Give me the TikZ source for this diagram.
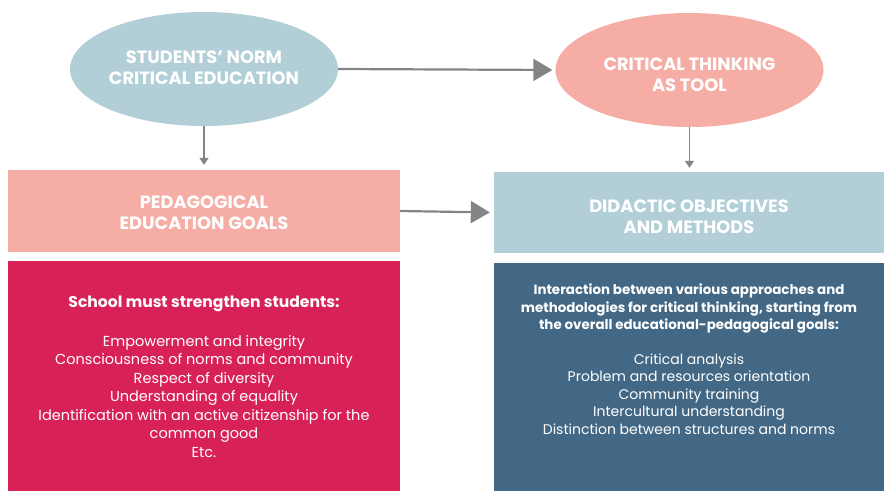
\documentclass[tikz,border=0pt]{standalone}
\usepackage{fontspec}
\setmainfont{Poppins}
\usetikzlibrary{shapes.geometric,arrows.meta}

\definecolor{paleblue}{HTML}{B2CFD8}
\definecolor{salmon}{HTML}{F6ADA5}
\definecolor{crimson}{HTML}{D82257}
\definecolor{slateblue}{HTML}{436885}
\definecolor{arrowgray}{HTML}{838486}

\tikzset{
  heading/.style={font=\fontsize{17.8}{21}\selectfont\bfseries, text=white, align=center},
  oval/.style={ellipse, draw=none, inner sep=0pt, minimum width=268pt, minimum height=114pt},
  band/.style={rectangle, draw=none, inner sep=0pt},
  panel/.style={rectangle, draw=none, inner sep=0pt},
  bodytext/.style={text=white, align=center, inner sep=0pt},
  bigarrow/.style={draw=arrowgray, line width=2.2pt, -{Triangle[length=19pt,width=22pt]}},
  smallarrow/.style={draw=arrowgray, line width=1.2pt, -{Triangle[length=7pt,width=9pt]}}
}

\begin{document}
\begin{tikzpicture}[x=1pt,y=-1pt]
  \useasboundingbox (0,0) rectangle (884,491);

  % top row: two ovals
  \node[oval, fill=paleblue] (norm) at (204,69) {};
  \node[heading] (normtext) at (204,67.5) {STUDENTS' NORM\\CRITICAL EDUCATION};
  \node[oval, fill=salmon] (tool) at (689.5,70) {};
  \node[heading] (tooltext) at (689.5,75) {CRITICAL THINKING\\AS TOOL};

  % middle row: two bands
  \node[band, fill=salmon, minimum width=392pt, minimum height=82pt] (goals) at (204,211) {};
  \node[heading] (goalstext) at (204,213) {PEDAGOGICAL\\EDUCATION GOALS};
  \node[band, fill=paleblue, minimum width=390pt, minimum height=81pt] (didactic) at (689,212.5) {};
  \node[heading] (didactictext) at (689,217) {DIDACTIC OBJECTIVES\\AND METHODS};

  % bottom row: two panels
  \node[panel, fill=crimson, minimum width=392pt, minimum height=230pt] (school) at (204,376) {};
  \node[panel, fill=slateblue, minimum width=390pt, minimum height=228pt] (methods) at (689,377) {};

  \node[bodytext, anchor=north, font=\fontsize{14.5}{18.5}\selectfont] (schooltext) at (204,296) {%
    \textbf{\fontsize{15.6}{18.5}\selectfont School must strengthen students:}\\[20pt]
    Empowerment and integrity\\
    Consciousness of norms and community\\
    Respect of diversity\\
    Understanding of equality\\
    Identification with an active citizenship for the\\
    common good\\
    Etc.};

  \node[bodytext, anchor=north, font=\fontsize{14}{17.5}\selectfont] (methodstext) at (689,284) {%
    \textbf{\fontsize{13.4}{17.5}\selectfont Interaction between various approaches and}\\
    \textbf{\fontsize{13.4}{17.5}\selectfont methodologies for critical thinking, starting from}\\
    \textbf{\fontsize{13.4}{17.5}\selectfont the overall educational-pedagogical goals:}\\[17pt]
    Critical analysis\\
    Problem and resources orientation\\
    Community training\\
    Intercultural understanding\\
    Distinction between structures and norms};

  % connectors
  \draw[bigarrow, shorten >=3pt] (norm.east) -- (tool.west);
  \draw[bigarrow, shorten >=4pt] (goals.east) -- (didactic.west);
  \draw[smallarrow, shorten >=5pt] (norm.south) -- (goals.north);
  \draw[smallarrow, shorten >=4pt] (tool.south) -- (didactic.north -| tool.south);
\end{tikzpicture}
\end{document}
